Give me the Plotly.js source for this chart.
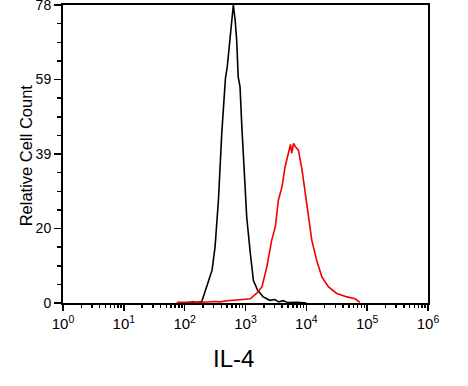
<!DOCTYPE html>
<html>
<head>
<meta charset="utf-8">
<script src="https://cdn.plot.ly/plotly-3.0.1.min.js"></script>
<style>html,body{margin:0;padding:0;background:#fff;}#chart{width:468px;height:386px;}</style>
</head>
<body>
<div id="chart"></div>
<script>
// Isotype control (black) histogram: fluorescence intensity vs relative count
const controlX = [100, 138, 158, 191, 229, 282, 316, 359, 407, 437, 468, 501, 562, 596, 631, 676, 716, 759, 813, 871, 955, 1047, 1202, 1349, 1585, 1950, 2512, 3020, 3548, 4169, 5012, 7080, 10000];
const controlY = [0, 0.3, 0.1, 0.4, 4.2, 8.6, 14.7, 26.9, 44.4, 53, 58.8, 61.8, 70.6, 75.4, 78, 74, 68.8, 59.2, 56.6, 46.1, 35.6, 22.5, 12.9, 5.9, 3.3, 1.6, 0.7, 0.9, 0.3, 0.6, 0.1, 0.2, 0];
// IL-4 stained (red) histogram
const il4X = [74, 126, 200, 316, 380, 501, 724, 891, 1202, 1514, 1862, 2239, 2692, 3090, 3467, 3981, 4467, 5129, 5495, 5754, 6166, 6607, 7413, 8511, 9550, 10839, 12303, 14791, 17989, 23174, 31623, 46774, 63096, 75858];
const il4Y = [0.2, 0.1, 0.2, 0.4, 0.3, 0.6, 0.7, 0.9, 1.1, 2.5, 4.2, 9.4, 16.4, 19.9, 26.9, 30.4, 35.6, 40, 41.5, 39.2, 41.8, 40.9, 40, 34.8, 28.7, 22.5, 16.4, 11.2, 6.8, 4.2, 2.5, 1.6, 1.1, 0.2];
const xTickVals = [1, 10, 100, 1000, 10000, 100000, 1000000];
const xTickText = ['10<sup>0</sup>', '10<sup>1</sup>', '10<sup>2</sup>', '10<sup>3</sup>', '10<sup>4</sup>', '10<sup>5</sup>', '10<sup>6</sup>'];
const yTickVals = [0, 19.5, 39, 58.5, 77.99];
const yTickText = ['0', '20', '39', '59', '78'];
const yMinorVals = [4.875, 9.75, 14.625, 24.375, 29.25, 34.125, 43.875, 48.75, 53.625, 63.375, 68.25, 73.125];

const traces = [
  {x: controlX, y: controlY, type: 'scatter', mode: 'lines', line: {color: '#000000', width: 1.6}, hoverinfo: 'none', cliponaxis: false},
  {x: il4X, y: il4Y, type: 'scatter', mode: 'lines', line: {color: '#f00000', width: 1.6}, hoverinfo: 'none'}
];

const layout = {
  width: 468, height: 386,
  margin: {l: 63, r: 40, t: 5, b: 83},
  paper_bgcolor: '#ffffff', plot_bgcolor: '#ffffff',
  showlegend: false,
  font: {family: 'Liberation Sans, Arial, sans-serif', color: '#000000', size: 14},
  xaxis: {
    type: 'log', range: [0, 6],
    showgrid: false, zeroline: false,
    showline: true, linecolor: '#000', linewidth: 2, mirror: true,
    ticks: 'outside', ticklen: 6, tickwidth: 1.5, tickcolor: '#000',
    tickmode: 'array', tickvals: xTickVals, ticktext: xTickText,
    tickfont: {size: 15},
    minor: {ticks: 'outside', ticklen: 3, tickwidth: 1.5, tickcolor: '#000', dtick: 'D1', showgrid: false}
  },
  yaxis: {
    range: [0, 78],
    showgrid: false, zeroline: false,
    showline: true, linecolor: '#000', linewidth: 2, mirror: true,
    ticks: 'outside', ticklen: 7, tickwidth: 1.5, tickcolor: '#000',
    tickmode: 'array', tickvals: yTickVals, ticktext: yTickText,
    tickfont: {size: 14}, ticklabeloverflow: 'allow',
    minor: {ticks: 'outside', ticklen: 4, tickwidth: 1.5, tickcolor: '#000', tickmode: 'array', tickvals: yMinorVals, showgrid: false}
  },
  annotations: [
    {text: 'IL-4', xref: 'paper', yref: 'paper', x: 0.468, y: -0.185, xanchor: 'center', yanchor: 'middle', showarrow: false, font: {size: 24}},
    {text: 'Relative Cell Count', xref: 'paper', yref: 'paper', x: -0.101, y: 0.496, xanchor: 'center', yanchor: 'middle', textangle: -90, showarrow: false, font: {size: 16.5}}
  ]
};

Plotly.newPlot('chart', traces, layout, {displayModeBar: false, staticPlot: true});
</script>
</body>
</html>
